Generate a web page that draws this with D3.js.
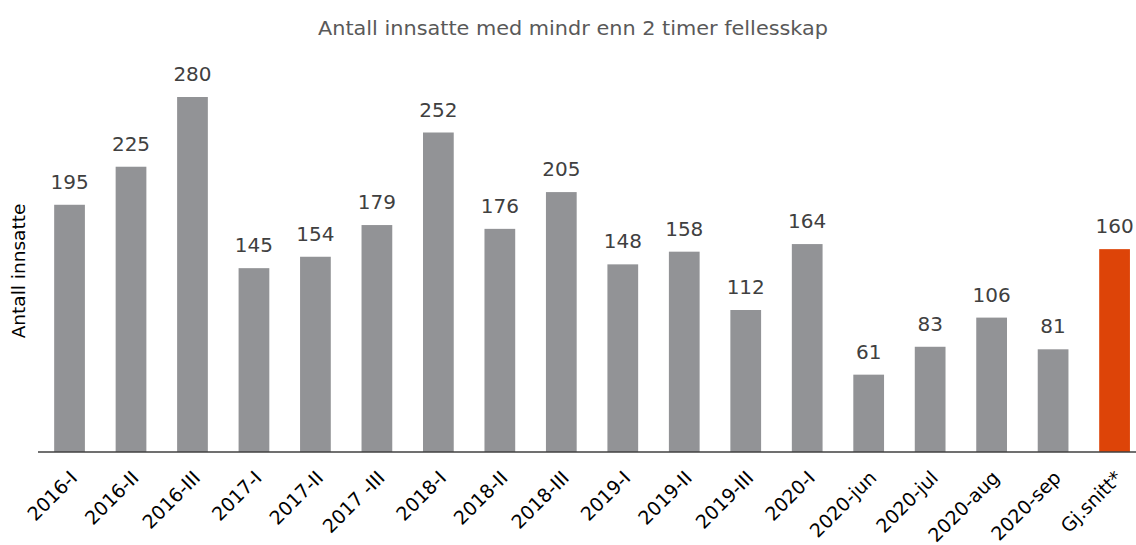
<!DOCTYPE html>
<html><head><meta charset="utf-8">
<script src="https://cdn.jsdelivr.net/npm/d3@7"></script>
<style>body{margin:0;background:#fff}svg{display:block}text{font-family:"DejaVu Sans",sans-serif}</style>
</head><body><svg id="c" width="1136" height="545"></svg>
<script>
const categories = ["2016-I","2016-II","2016-III","2017-I","2017-II","2017 -III","2018-I","2018-II","2018-III","2019-I","2019-II","2019-III","2020-I","2020-jun","2020-jul","2020-aug","2020-sep","Gj.snitt*"];
const values = [195,225,280,145,154,179,252,176,205,148,158,112,164,61,83,106,81,160];
const highlight = ["Gj.snitt*"];
const title = "Antall innsatte med mindr enn 2 timer fellesskap";
const yLabel = "Antall innsatte";

const svg = d3.select("#c");
const baseY = 452;
const x = d3.scaleBand().domain(categories).range([38.8, 1145.3]).paddingInner(0.5).paddingOuter(0.25);
const y = d3.scaleLinear().domain([0, 280]).range([baseY, 97]);

svg.append("text").attr("x", 573).attr("y", 35).attr("text-anchor","middle")
  .attr("fill","#595959").attr("font-size",20)
  .attr("textLength",510).attr("lengthAdjust","spacingAndGlyphs").text(title);

svg.append("text").attr("transform","translate(25,271) rotate(-90)").attr("text-anchor","middle")
  .attr("fill","#000").attr("font-size",18.5).text(yLabel);

svg.selectAll("rect.bar").data(categories).join("rect").attr("class","bar")
  .attr("x", d => x(d)).attr("width", x.bandwidth())
  .attr("y", (d,i) => y(values[i])).attr("height", (d,i) => baseY - y(values[i]))
  .attr("fill", d => highlight.includes(d) ? "#DD4408" : "#929396");

svg.selectAll("text.val").data(categories).join("text").attr("class","val")
  .attr("x", d => x(d) + x.bandwidth()/2).attr("y", (d,i) => y(values[i]) - 16)
  .attr("text-anchor","middle").attr("fill","#404040").attr("font-size",20)
  .text((d,i) => values[i]);

const axis = svg.append("g").attr("transform",`translate(0,${baseY})`)
  .call(d3.axisBottom(x).tickSize(0).tickPadding(0));
axis.select(".domain").attr("stroke","#404040").attr("stroke-width",1.5).attr("d","M38,0H1136");
axis.selectAll(".tick text").attr("font-size",19).attr("fill","#000")
  .attr("text-anchor","end").attr("dy",0)
  .attr("transform","translate(9,27) rotate(-45)");
</script></body></html>
